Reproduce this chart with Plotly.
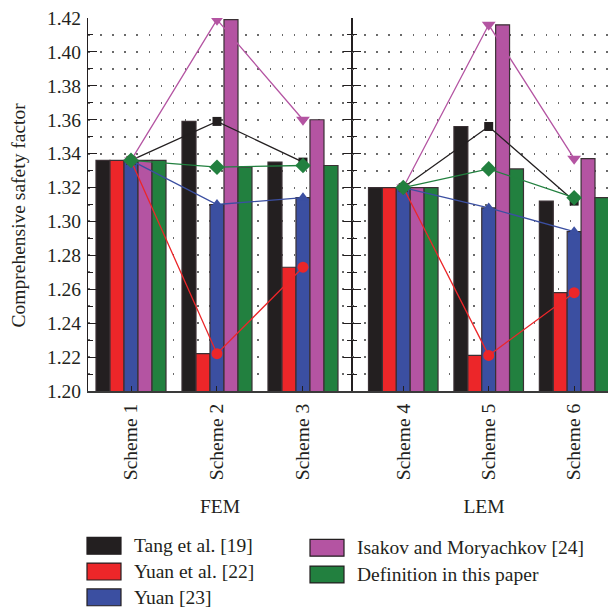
import plotly.graph_objects as go
from plotly.subplots import make_subplots

fem_schemes = ["Scheme 1", "Scheme 2", "Scheme 3"]
lem_schemes = ["Scheme 4", "Scheme 5", "Scheme 6"]
series_names = ["Tang et al. [19]", "Yuan et al. [22]", "Yuan [23]",
                "Isakov and Moryachkov [24]", "Definition in this paper"]

tang_fem = [1.336, 1.359, 1.335]
tang_lem = [1.320, 1.356, 1.312]
yuan_etal_fem = [1.336, 1.222, 1.273]
yuan_etal_lem = [1.320, 1.221, 1.258]
yuan_fem = [1.336, 1.310, 1.314]
yuan_lem = [1.320, 1.308, 1.294]
isakov_fem = [1.336, 1.419, 1.360]
isakov_lem = [1.320, 1.416, 1.337]
definition_fem = [1.336, 1.332, 1.333]
definition_lem = [1.320, 1.331, 1.314]

y_ticks = [1.20, 1.22, 1.24, 1.26, 1.28, 1.30, 1.32, 1.34, 1.36, 1.38, 1.40, 1.42]
group_titles = ["FEM", "LEM"]
y_title = "Comprehensive safety factor"

colors = ["#231f20", "#ec2629", "#3b4fa1", "#b454a2", "#22803f"]
symbols = ["square", "circle", "triangle-up", "triangle-down", "diamond"]
msizes = [9, 11, 11, 12, 12]

fem_vals = [tang_fem, yuan_etal_fem, yuan_fem, isakov_fem, definition_fem]
lem_vals = [tang_lem, yuan_etal_lem, yuan_lem, isakov_lem, definition_lem]

FONT = "Liberation Serif"
FS = 19.5
OFF = 8  # page body margin
W, H = 616 - OFF, 614 - OFF
ML, MR, MT = 88 - OFF, 0, 15 - OFF
MB = H - (391 - OFF)

fig = make_subplots(rows=1, cols=2, shared_yaxes=False, horizontal_spacing=0)

for col, (cats, vals) in enumerate([(fem_schemes, fem_vals), (lem_schemes, lem_vals)], start=1):
    for i, v in enumerate(vals):
        fig.add_trace(go.Bar(x=cats, y=v, name=series_names[i], marker_color=colors[i],
                             marker_line_color="#3a3034", marker_line_width=1.2,
                             showlegend=False), row=1, col=col)
    for i, v in enumerate(vals):
        fig.add_trace(go.Scatter(x=cats, y=v, mode="lines+markers", name=series_names[i],
                                 line=dict(color=colors[i], width=1.3),
                                 marker=dict(symbol=symbols[i], size=msizes[i], color=colors[i]),
                                 showlegend=False), row=1, col=col)

yax_common = dict(range=[1.20, 1.42], tickvals=y_ticks, showline=True, linecolor="#231f20",
                  linewidth=1.2, ticks="inside", ticklen=9, tickwidth=1.3, tickcolor="#231f20",
                  showgrid=True, gridcolor="#6a6a6a", gridwidth=1.6, griddash="1.6px,10.5px",
                  minor=dict(dtick=0.01, ticks="inside", ticklen=5, tickwidth=1.3, tickcolor="#231f20",
                             showgrid=True, gridcolor="#6a6a6a", gridwidth=1.6, griddash="1.6px,10.5px"),
                  zeroline=False)

fig.update_yaxes(**yax_common, tickformat=".2f", tickfont=dict(family=FONT, size=FS, color="#231f20"),
                 mirror="ticks", ticklabelstandoff=2, ticklabeloverflow="allow",
                 row=1, col=1)
fig.update_yaxes(**yax_common, showticklabels=False, row=1, col=2)

xax_common = dict(showline=True, linecolor="#3a3a3a", linewidth=2, ticks="inside", ticklen=5,
                  tickcolor="#231f20", tickangle=-90, tickfont=dict(family=FONT, size=FS, color="#231f20"),
                  ticklabelstandoff=3, showgrid=False, zeroline=False)
fig.update_xaxes(**xax_common, range=[-0.5, 2.57],
                 title=dict(text=group_titles[0], font=dict(family=FONT, size=FS, color="#231f20"), standoff=20),
                 row=1, col=1)
fig.update_xaxes(**xax_common, range=[-0.6, 2.49],
                 title=dict(text=group_titles[1], font=dict(family=FONT, size=FS, color="#231f20"), standoff=20),
                 row=1, col=2)

fig.update_xaxes(domain=[0, 0.5], row=1, col=1)
fig.update_xaxes(domain=[0.5, 1.0], row=1, col=2)

# page pixel -> paper
pw, ph = W - ML - MR, H - MT - MB
def px(x):
    return (x - OFF - ML) / pw
def py(y):
    return (H - MB - (y - OFF)) / ph

legend_pos = [(87, 547), (87, 573), (87, 599), (310, 549), (310, 576)]
shapes = []
annotations = []
for i, (lx, ly) in enumerate(legend_pos):
    shapes.append(dict(type="rect", xref="paper", yref="paper", x0=px(lx), x1=px(lx + 34),
                       y0=py(ly - 8.5), y1=py(ly + 8.5), fillcolor=colors[i],
                       line=dict(color="#231f20", width=1.2)))
    annotations.append(dict(xref="paper", yref="paper", x=px(lx + 45), y=py(ly), text=series_names[i],
                            showarrow=False, xanchor="left", yanchor="middle",
                            font=dict(family=FONT, size=FS, color="#231f20")))

annotations.append(dict(xref="paper", yref="paper", x=px(18), y=py(214), text=y_title, textangle=-90,
                        showarrow=False, xanchor="center", yanchor="middle",
                        font=dict(family=FONT, size=FS, color="#231f20")))

fig.update_layout(width=W, height=H, margin=dict(l=ML, r=MR, t=MT, b=MB),
                  plot_bgcolor="white", paper_bgcolor="white", barmode="group",
                  bargap=0.186, bargroupgap=0, showlegend=False,
                  shapes=shapes, annotations=annotations,
                  font=dict(family=FONT, size=FS, color="#231f20"))

fig.write_html("out.html")
